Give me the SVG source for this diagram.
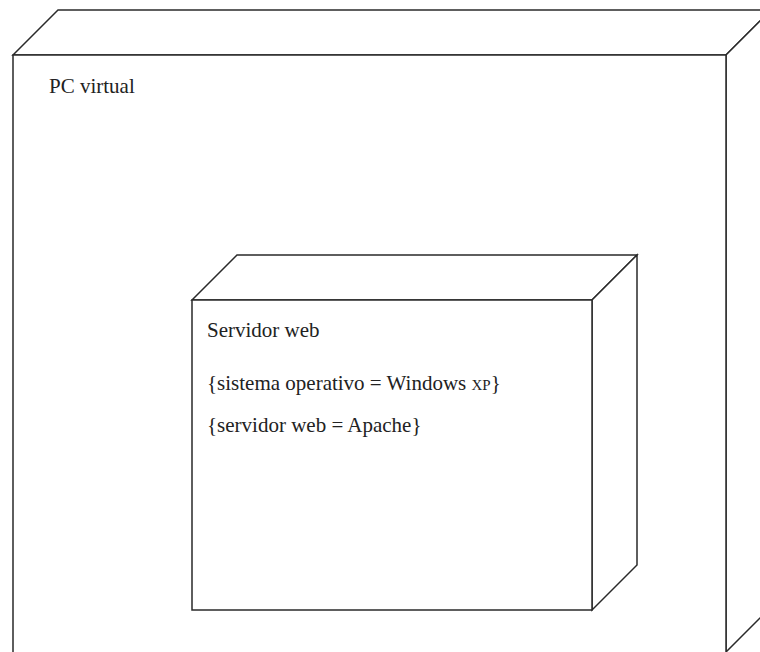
<svg xmlns="http://www.w3.org/2000/svg" width="760" height="652" viewBox="0 0 760 652">
<style>
.n{fill:#fff;stroke:#2a2a2a;stroke-width:1.5;stroke-linejoin:miter}
.t{font-family:"Liberation Serif","Times New Roman",serif;font-size:21px;fill:#222}
.sc{font-size:15px}
</style>
<rect width="760" height="652" fill="#fff"/>
<g id="pc-virtual">
<polygon class="n" points="13,55 58,10 771,10 726,55"/>
<polygon class="n" points="726,55 771,10 771,607 726,652"/>
<rect class="n" x="13" y="55" width="713" height="600"/>
<text class="t" x="49" y="93">PC virtual</text>
</g>
<g id="servidor-web">
<polygon class="n" points="192,300 237,255 637,255 592,300"/>
<polygon class="n" points="592,300 637,255 637,565 592,610"/>
<rect class="n" x="192" y="300" width="400" height="310"/>
<text class="t" x="207" y="337">Servidor web</text>
<text class="t" x="207" y="390">{sistema operativo = Windows <tspan class="sc">XP</tspan>}</text>
<text class="t" x="207" y="432">{servidor web = Apache}</text>
</g>
<g id="connectors"/>
</svg>
